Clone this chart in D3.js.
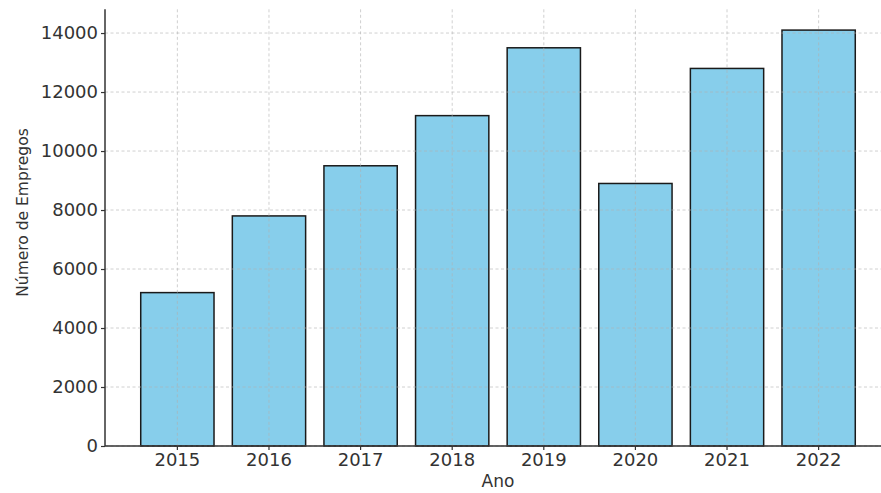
<!DOCTYPE html>
<html>
<head>
<meta charset="utf-8">
<script src="https://cdn.jsdelivr.net/npm/d3@7"></script>
<style>
  html, body { margin: 0; padding: 0; background: #fff; }
  svg { display: block; font-family: "DejaVu Sans", sans-serif; }
</style>
</head>
<body>
<svg id="chart" width="881" height="493"></svg>
<script>
const years = ["2015", "2016", "2017", "2018", "2019", "2020", "2021", "2022"];
const empregos = [5200, 7800, 9500, 11200, 13500, 8900, 12800, 14100];
const yTicks = [0, 2000, 4000, 6000, 8000, 10000, 12000, 14000];
const xTitle = "Ano";
const yTitle = "Número de Empregos";

const svg = d3.select("#chart");
const plotLeft = 105, plotRight = 891, plotBottom = 446, plotTop = 9.3;

const x = d3.scaleBand().domain(years).range([plotLeft, plotRight]).paddingInner(0.2).paddingOuter(0.39);
const y = d3.scaleLinear().domain([0, 14805]).range([plotBottom, plotTop]);

// bars
svg.append("g").selectAll("rect").data(years).join("rect")
  .attr("x", d => x(d))
  .attr("y", (d, i) => y(empregos[i]))
  .attr("width", x.bandwidth())
  .attr("height", (d, i) => y(0) - y(empregos[i]))
  .attr("fill", "#87CEEB")
  .attr("stroke", "#1a1a1a")
  .attr("stroke-width", 1.5);

// grid (drawn over bars, faint)
const grid = svg.append("g").attr("stroke", "#b0b0b0").attr("stroke-opacity", 0.6)
  .attr("stroke-width", 1).attr("stroke-dasharray", "3,2.5");
grid.selectAll("line.h").data(yTicks).join("line").attr("class", "h")
  .attr("x1", plotLeft).attr("x2", plotRight)
  .attr("y1", d => y(d)).attr("y2", d => y(d));
grid.selectAll("line.v").data(years).join("line").attr("class", "v")
  .attr("x1", d => x(d) + x.bandwidth() / 2).attr("x2", d => x(d) + x.bandwidth() / 2)
  .attr("y1", plotTop).attr("y2", plotBottom);

// axes
const yAxis = svg.append("g").attr("transform", `translate(${plotLeft},0)`)
  .call(d3.axisLeft(y).tickValues(yTicks).tickFormat(d3.format("d")).tickSize(4).tickPadding(3));
const xAxis = svg.append("g").attr("transform", `translate(0,${plotBottom})`)
  .call(d3.axisBottom(x).tickSize(4).tickPadding(3.5));

[xAxis, yAxis].forEach(a => {
  a.select(".domain").attr("stroke", "#333").attr("stroke-width", 1.5);
  a.selectAll(".tick line").attr("stroke", "#333").attr("stroke-width", 1.2);
  a.selectAll(".tick text").attr("fill", "#333").style("font-size", "18px")
    .style("font-family", "DejaVu Sans, sans-serif");
});
yAxis.select(".domain").attr("d", `M0,${plotTop}V${plotBottom}`);
xAxis.select(".domain").attr("d", `M${plotLeft},0H${plotRight}`);

// axis titles
svg.append("text").attr("x", (plotLeft + plotRight) / 2).attr("y", 487)
  .attr("text-anchor", "middle").attr("fill", "#333").style("font-size", "17px")
  .text(xTitle);
svg.append("text").attr("transform", "translate(28,212.5) rotate(-90)")
  .attr("text-anchor", "middle").attr("fill", "#333").style("font-size", "15.5px")
  .text(yTitle);
</script>
</body>
</html>
